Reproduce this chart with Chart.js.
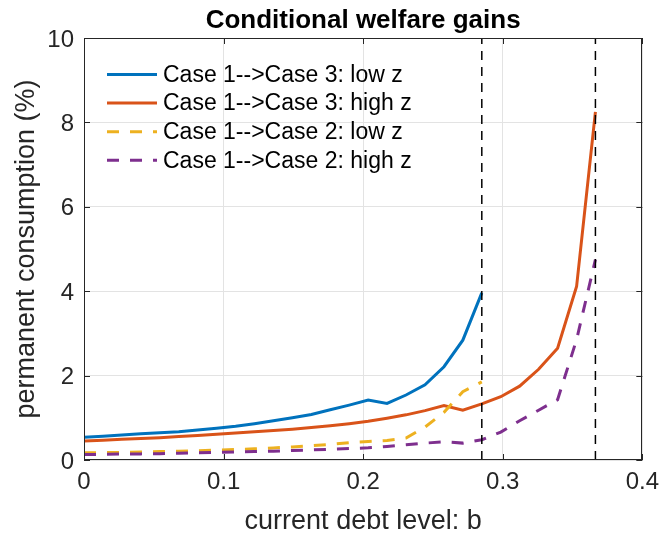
<!DOCTYPE html>
<html>
<head>
<meta charset="utf-8">
<script src="https://cdn.jsdelivr.net/npm/chart.js@4.4.1/dist/chart.umd.min.js"></script>
<style>
  html, body { margin: 0; padding: 0; background: #ffffff; }
  canvas { display: block; }
</style>
</head>
<body>
<canvas id="welfare" width="667" height="539"></canvas>
<script>
// Debt grid b and welfare gains (% of permanent consumption)
const debtGrid = [0, 0.0136, 0.0271, 0.0407, 0.0543, 0.0679, 0.0814, 0.095, 0.1086, 0.1221,
  0.1357, 0.1493, 0.1629, 0.1764, 0.19, 0.2036, 0.2171, 0.2307, 0.2443, 0.2579,
  0.2714, 0.285, 0.2986, 0.3121, 0.3257, 0.3393, 0.3529, 0.3664];

const case3LowZ = [0.54, 0.565, 0.59, 0.62, 0.645, 0.67, 0.71, 0.75, 0.80, 0.86,
  0.93, 1.00, 1.08, 1.19, 1.30, 1.42, 1.34, 1.54, 1.78, 2.21, 2.84, 3.96];

const case3HighZ = [0.45, 0.47, 0.49, 0.51, 0.53, 0.555, 0.58, 0.61, 0.64, 0.67,
  0.70, 0.73, 0.77, 0.81, 0.86, 0.92, 0.99, 1.07, 1.17, 1.29, 1.18, 1.33,
  1.50, 1.75, 2.15, 2.65, 4.11, 8.25];

const case2LowZ = [0.17, 0.175, 0.18, 0.19, 0.20, 0.21, 0.22, 0.235, 0.25, 0.265,
  0.285, 0.31, 0.34, 0.37, 0.41, 0.44, 0.46, 0.52, 0.78, 1.13, 1.62, 1.85];

const case2HighZ = [0.13, 0.135, 0.14, 0.145, 0.15, 0.16, 0.17, 0.18, 0.19, 0.20,
  0.21, 0.225, 0.24, 0.255, 0.27, 0.29, 0.32, 0.36, 0.40, 0.43, 0.40, 0.48,
  0.66, 0.93, 1.18, 1.43, 2.85, 4.75];

const seriesLabels = [
  'Case 1-->Case 3: low z',
  'Case 1-->Case 3: high z',
  'Case 1-->Case 2: low z',
  'Case 1-->Case 2: high z'
];

// Debt limits marked with vertical dashed lines
const debtLimits = [0.285, 0.3664];

const xTicks = [0, 0.1, 0.2, 0.3, 0.4];
const yTicks = [0, 2, 4, 6, 8, 10];

const chartTitle = 'Conditional welfare gains';

const FONT = "'Liberation Sans', Arial, Helvetica, sans-serif";
const AXIS_COLOR = '#262626';

const toPoints = (ys) => ys.map((v, i) => ({ x: debtGrid[i], y: v }));

const lineSet = (label, ys, color, dash, order) => ({
  label: label,
  data: toPoints(ys),
  borderColor: color,
  backgroundColor: color,
  borderWidth: 3,
  borderDash: dash,
  pointRadius: 0,
  tension: 0,
  fill: false,
  order: order
});

const datasets = [
  lineSet(seriesLabels[0], case3LowZ, '#0072BD', [], 4),
  lineSet(seriesLabels[1], case3HighZ, '#D95319', [], 3),
  lineSet(seriesLabels[2], case2LowZ, '#EDB120', [12, 11], 2),
  lineSet(seriesLabels[3], case2HighZ, '#7E2F8E', [12, 11], 1)
];

debtLimits.forEach((b) => {
  datasets.push({
    label: '',
    data: [{ x: b, y: yTicks[0] }, { x: b, y: yTicks[yTicks.length - 1] }],
    borderColor: '#000000',
    borderWidth: 1.5,
    borderDash: [9, 7],
    pointRadius: 0,
    fill: false,
    order: 0,
    isLimit: true
  });
});

// Box around the axes with inward tick marks on all four sides, title above
const axesFrame = {
  id: 'axesFrame',
  afterDatasetsDraw(chart) {
    const { ctx, chartArea: a, scales: { x, y } } = chart;
    const tl = 6;
    ctx.save();
    ctx.strokeStyle = AXIS_COLOR;
    ctx.lineWidth = 1;
    ctx.setLineDash([]);
    ctx.beginPath();
    xTicks.forEach((v) => {
      const px = Math.round(x.getPixelForValue(v)) + 0.5;
      ctx.moveTo(px, a.bottom); ctx.lineTo(px, a.bottom - tl);
      ctx.moveTo(px, a.top); ctx.lineTo(px, a.top + tl);
    });
    yTicks.forEach((v) => {
      const py = Math.round(y.getPixelForValue(v)) + 0.5;
      ctx.moveTo(a.left, py); ctx.lineTo(a.left + tl, py);
      ctx.moveTo(a.right, py); ctx.lineTo(a.right - tl, py);
    });
    ctx.stroke();
    ctx.strokeRect(Math.round(a.left) + 0.5, Math.round(a.top) + 0.5,
      Math.round(a.right - a.left) - 1, Math.round(a.bottom - a.top) - 1);

    ctx.fillStyle = '#000000';
    ctx.font = 'bold 26px ' + FONT;
    ctx.textAlign = 'center';
    ctx.textBaseline = 'alphabetic';
    ctx.fillText(chartTitle, (a.left + a.right) / 2, a.top - 10);
    ctx.restore();
  }
};

// Legend inside the upper-left corner of the axes, no frame
const insideLegend = {
  id: 'insideLegend',
  afterDraw(chart) {
    const { ctx, chartArea: a } = chart;
    const x0 = a.left + 23;
    const sampleW = 50;
    const rowH = 28.6;
    const y0 = a.top + 36.5;
    ctx.save();
    chart.data.datasets.filter((d) => !d.isLimit).forEach((d, i) => {
      const yy = y0 + i * rowH;
      ctx.strokeStyle = d.borderColor;
      ctx.lineWidth = d.borderWidth;
      ctx.setLineDash(d.borderDash);
      ctx.beginPath();
      ctx.moveTo(x0, yy);
      ctx.lineTo(x0 + sampleW, yy);
      ctx.stroke();
      ctx.setLineDash([]);
      ctx.fillStyle = '#000000';
      ctx.font = '23px ' + FONT;
      ctx.textBaseline = 'middle';
      ctx.textAlign = 'left';
      ctx.fillText(d.label, x0 + sampleW + 6, yy + 1);
    });
    ctx.restore();
  }
};

new Chart(document.getElementById('welfare'), {
  type: 'line',
  data: { datasets: datasets },
  plugins: [axesFrame, insideLegend],
  options: {
    responsive: false,
    animation: false,
    devicePixelRatio: 1,
    layout: { padding: { left: 0, right: 19, top: 38, bottom: 0 } },
    plugins: {
      legend: { display: false },
      tooltip: { enabled: false },
      title: { display: false }
    },
    scales: {
      x: {
        type: 'linear',
        min: 0,
        max: 0.4,
        afterBuildTicks: (s) => { s.ticks = xTicks.map((v) => ({ value: v })); },
        afterFit: (s) => { s.height = 79; },
        grid: { color: '#e3e3e3', lineWidth: 1, drawTicks: false },
        border: { display: false },
        ticks: {
          color: AXIS_COLOR,
          padding: 8,
          maxRotation: 0,
          font: { family: FONT, size: 24 },
          callback: (v) => String(v)
        },
        title: {
          display: true,
          text: 'current debt level: b',
          color: AXIS_COLOR,
          font: { family: FONT, size: 27, lineHeight: 1.2 },
          padding: { top: 0, bottom: 1 }
        }
      },
      y: {
        type: 'linear',
        min: 0,
        max: 10,
        afterBuildTicks: (s) => { s.ticks = yTicks.map((v) => ({ value: v })); },
        afterFit: (s) => { s.width = 84; },
        grid: { color: '#e3e3e3', lineWidth: 1, drawTicks: false },
        border: { display: false },
        ticks: {
          color: AXIS_COLOR,
          padding: 10,
          labelOffset: 2,
          font: { family: FONT, size: 24 },
          callback: (v) => String(v)
        },
        title: {
          display: true,
          text: 'permanent consumption (%)',
          color: AXIS_COLOR,
          font: { family: FONT, size: 27, lineHeight: 1.2 },
          padding: { top: 10, bottom: 0 }
        }
      }
    }
  }
});
</script>
</body>
</html>
